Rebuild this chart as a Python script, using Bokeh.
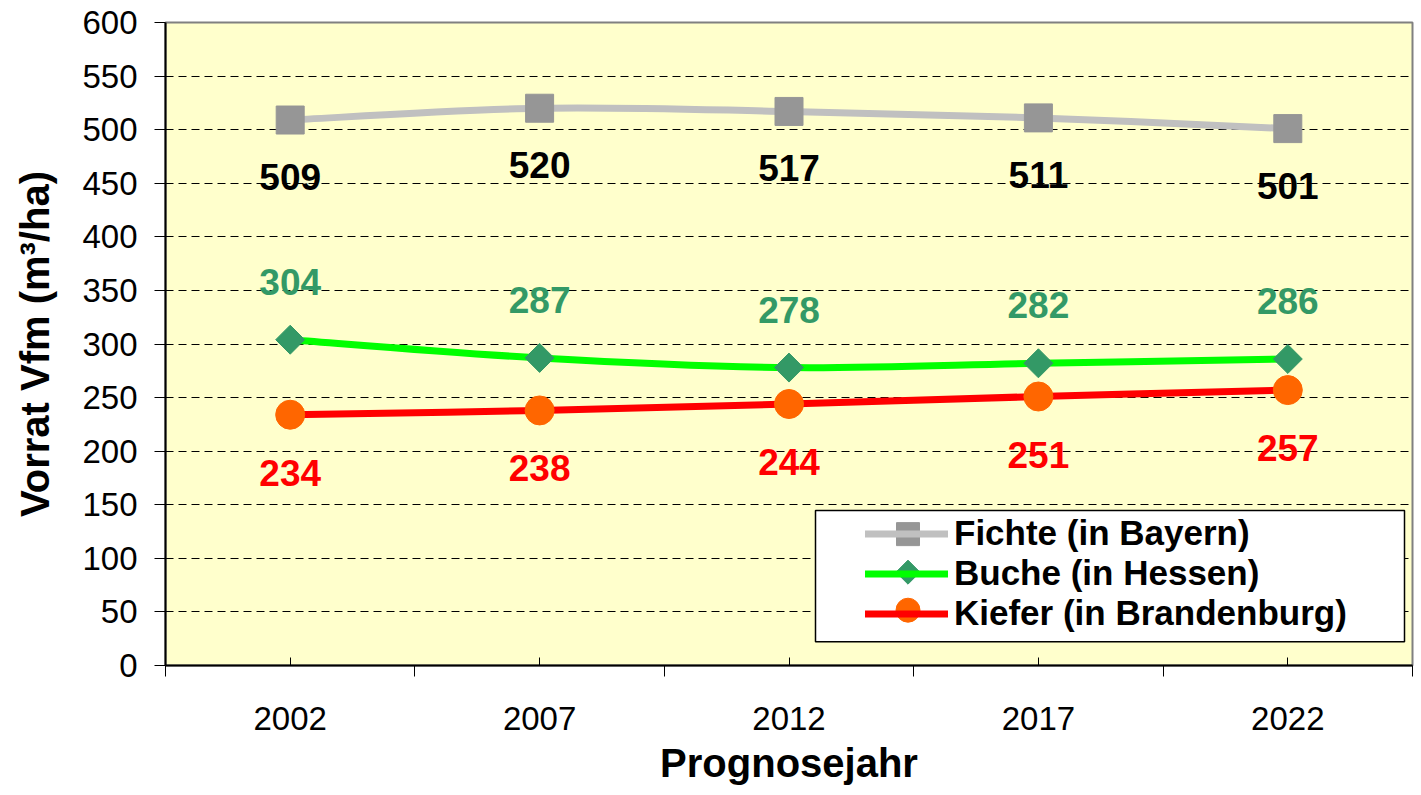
import math
from bokeh.plotting import figure
from bokeh.models import FixedTicker, Range1d, Legend, LegendItem, BoxAnnotation, ColumnDataSource
from bokeh.core.properties import value
from bokeh.embed import file_html
from bokeh.resources import INLINE

years = ["2002", "2007", "2012", "2017", "2022"]
fichte = [509, 520, 517, 511, 501]
buche = [304, 287, 278, 282, 286]
kiefer = [234, 238, 244, 251, 257]
series_names = ["Fichte (in Bayern)", "Buche (in Hessen)", "Kiefer (in Brandenburg)"]
y_ticks = list(range(0, 601, 50))

FONT = "Liberation Sans"
xs = list(range(len(years)))

BL, BR, BT, BB = 165, 6, 22, 114
W, H = 1412 + BR, 673 + BB

p = figure(width=W, height=H, output_backend="svg", toolbar_location=None,
           x_range=Range1d(-0.5, len(years) - 0.5), y_range=Range1d(0, 600),
           min_border_left=BL, min_border_right=BR, min_border_top=BT, min_border_bottom=BB)
p.background_fill_color = "#FFFFCC"
p.border_fill_color = "white"
p.outline_line_color = "#808080"
p.outline_line_width = 2

# axes
p.xaxis.ticker = FixedTicker(ticks=xs, minor_ticks=[i - 0.5 for i in range(len(years) + 1)])
p.xaxis.major_label_overrides = {i: y for i, y in enumerate(years)}
p.xaxis.major_tick_in = 8
p.xaxis.major_tick_out = 0
p.xaxis.minor_tick_in = 0
p.xaxis.minor_tick_out = 11
p.xaxis.major_tick_line_color = "black"
p.xaxis.minor_tick_line_color = "black"
p.xaxis.axis_line_color = "black"
p.xaxis.axis_line_width = 2
p.xaxis.major_label_standoff = 30
p.xaxis.axis_label = "Prognosejahr"
p.xaxis.axis_label_standoff = 8

p.yaxis.ticker = FixedTicker(ticks=y_ticks)
p.yaxis.major_tick_in = 0
p.yaxis.major_tick_out = 11
p.yaxis.minor_tick_line_color = None
p.yaxis.axis_line_color = "black"
p.yaxis.axis_line_width = 2
p.yaxis.major_label_standoff = 17
p.yaxis.axis_label = "Vorrat Vfm (m³/ha)"
p.yaxis.axis_label_standoff = 22

for ax in (p.xaxis, p.yaxis):
    ax.major_label_text_font = FONT
    ax.major_label_text_font_size = "33px"
    ax.major_label_text_color = "black"
    ax.axis_label_text_font = FONT
    ax.axis_label_text_font_size = "40px"
    ax.axis_label_text_font_style = "bold"
    ax.axis_label_text_color = "black"

p.xgrid.grid_line_color = None
p.ygrid.ticker = FixedTicker(ticks=y_ticks)
p.ygrid.grid_line_color = "black"
p.ygrid.grid_line_width = 1
p.ygrid.grid_line_dash = "8 5"


def smooth_segments(x, y):
    """Catmull-Rom style smoothing converted to cubic Bezier segments."""
    n = len(x)
    d = dict(x0=[], y0=[], x1=[], y1=[], cx0=[], cy0=[], cx1=[], cy1=[])
    for i in range(n - 1):
        p0 = (x[max(i - 1, 0)], y[max(i - 1, 0)])
        p1 = (x[i], y[i])
        p2 = (x[i + 1], y[i + 1])
        p3 = (x[min(i + 2, n - 1)], y[min(i + 2, n - 1)])
        d["x0"].append(p1[0]); d["y0"].append(p1[1])
        d["x1"].append(p2[0]); d["y1"].append(p2[1])
        d["cx0"].append(p1[0] + (p2[0] - p0[0]) / 6); d["cy0"].append(p1[1] + (p2[1] - p0[1]) / 6)
        d["cx1"].append(p2[0] - (p3[0] - p1[0]) / 6); d["cy1"].append(p2[1] - (p3[1] - p1[1]) / 6)
    return ColumnDataSource(d)


styles = [
    dict(vals=fichte, line="#C0C0C0", marker="square", mcolor="#969696", size=28, leg_size=23, angle=0,
         label_color="black", yoff=57),
    dict(vals=buche, line="#00FF00", marker="square", mcolor="#339966", size=20.5, leg_size=17,
         angle=math.pi / 4, label_color="#339966", yoff=-58),
    dict(vals=kiefer, line="#FF0000", marker="circle", mcolor="#FF6600", size=29, leg_size=24, angle=0,
         label_color="#FF0000", yoff=58),
]

# frame geometry helpers (screen px inside the frame -> data coordinates)
frame_w = W - BL - BR
frame_h = H - BT - BB
xr0, xr1 = p.x_range.start, p.x_range.end
yr0, yr1 = p.y_range.start, p.y_range.end
def sx(px):
    return xr0 + (px / frame_w) * (xr1 - xr0)
def sy(py):
    return yr0 + (py / frame_h) * (yr1 - yr0)

# legend layout (pixels inside the frame, measured from bottom-left)
LEG_X, LEG_Y, LEG_PAD, GLYPH_W = 700, 32, 8, 83
ROW_CENTERS = [133, 94.5, 56]
MARK_X = LEG_X + 1 + GLYPH_W / 2

box = BoxAnnotation(left=sx(650), right=sx(1239), bottom=sy(24), top=sy(157),
                    fill_color="white", fill_alpha=1, line_color="black", line_width=1.5, line_alpha=1)
p.add_layout(box)

items = []
for name, st, rc in zip(series_names, styles, ROW_CENTERS):
    seg = smooth_segments(xs, st["vals"])
    r_line = p.bezier(x0="x0", y0="y0", x1="x1", y1="y1", cx0="cx0", cy0="cy0", cx1="cx1", cy1="cy1",
                      source=seg, line_color=st["line"], line_width=7, line_cap="round")
    p.scatter(x=xs, y=st["vals"], marker=st["marker"], size=st["size"], angle=st["angle"],
              fill_color=st["mcolor"], line_color=st["mcolor"], line_width=1)
    p.text(x=xs, y=st["vals"], text=[str(v) for v in st["vals"]], y_offset=st["yoff"],
           text_align="center", text_baseline="middle", text_font=value(FONT),
           text_font_size="37px", text_font_style="bold", text_color=st["label_color"])
    # legend marker drawn on top of the legend line
    p.scatter(x=[sx(MARK_X)], y=[sy(rc)], marker=st["marker"], size=st["leg_size"], angle=st["angle"],
              fill_color=st["mcolor"], line_color=st["mcolor"], line_width=1, level="overlay")
    items.append(LegendItem(label=name, renderers=[r_line]))

legend = Legend(items=items, location=(LEG_X, LEG_Y), orientation="vertical",
                label_text_font=FONT, label_text_font_size="35px", label_text_font_style="bold",
                label_text_color="black", glyph_width=GLYPH_W, glyph_height=37, label_height=37,
                label_standoff=6, spacing=-2, padding=LEG_PAD, margin=0,
                border_line_color=None, background_fill_alpha=0)
p.add_layout(legend, "center")

open("out.html", "w").write(file_html(p, INLINE))
